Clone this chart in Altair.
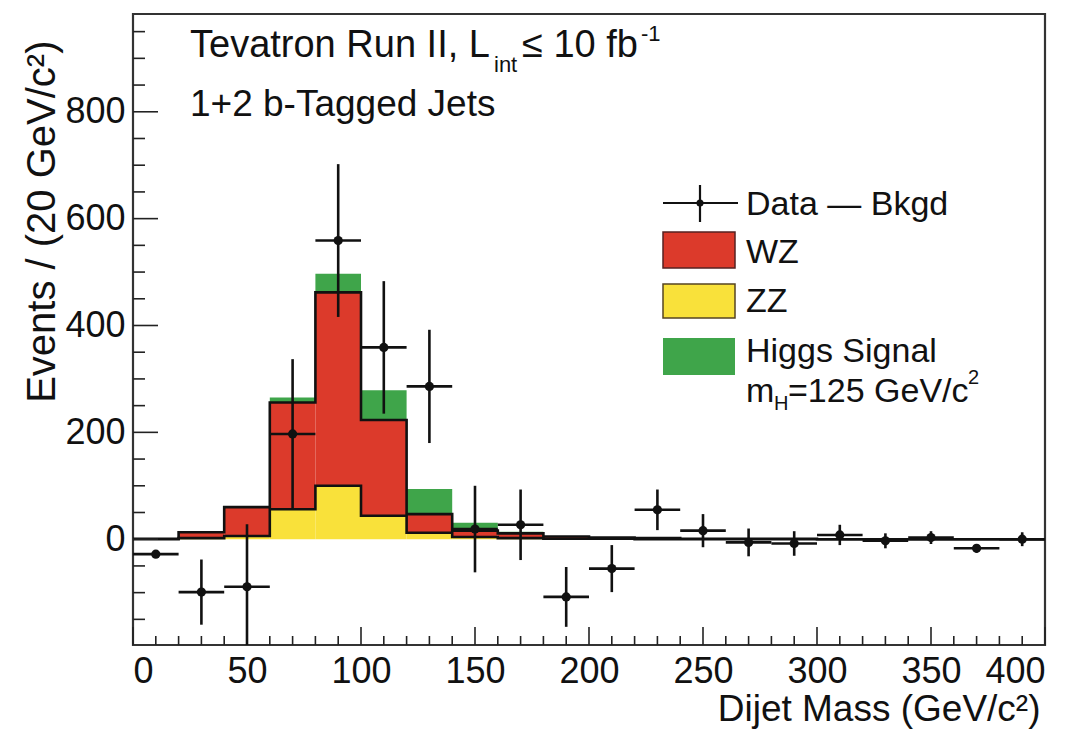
import altair as alt
import pandas as pd
import numpy as np

# ---------------- data ----------------
bin_lo = list(range(0, 400, 20))
bin_hi = [b + 20 for b in bin_lo]
zz_vals = [0, 2, 6, 56, 100, 44, 12, 4, 2, 1, 1, 0, 0, 0, 0, 0, 0, 0, 0, 0]
wz_vals = [1, 11, 54, 200, 362, 179, 35, 12, 9, 4, 2, 2, 1, 1, 1, 0, 0, 0, 0, 0]
higgs_vals = [0, 0, 1, 9, 35, 56, 47, 15, 3, 1, 1, 0, 0, 0, 0, 0, 0, 0, 0, 0]

data_x = [10, 30, 50, 70, 90, 110, 130, 150, 170, 190, 210, 230, 250, 270, 290, 310, 330, 350, 370, 390]
data_y = [-28, -99, -89, 197, 559, 359, 286, 19, 27, -108, -55, 55, 16, -6, -8, 8, -3, 3, -17, 0]
data_err = [5, 61, 117, 140, 143, 124, 106, 81, 66, 56, 44, 38, 31, 26, 23, 19, 14, 12, 8, 13]

x_ticks_major = [0, 50, 100, 150, 200, 250, 300, 350, 400]
y_ticks_major = [0, 200, 400, 600, 800]

RED = "#dc3a2b"
YELLOW = "#f9e13a"
GREEN = "#3fa54a"
FONT = "Liberation Sans"

W, H = 912, 631
XDOM = [0, 400]
YDOM = [-198, 983]
PX_PER_X = W / (XDOM[1] - XDOM[0])
PX_PER_Y = H / (YDOM[1] - YDOM[0])

# ---------------- tables ----------------
zz = np.array(zz_vals, dtype=float)
wz_top = zz + np.array(wz_vals, dtype=float)
all_top = wz_top + np.array(higgs_vals, dtype=float)

hist = pd.DataFrame({"lo": bin_lo, "hi": bin_hi, "zz": zz, "wz": wz_top, "tot": all_top, "zero": 0.0})

step = pd.DataFrame({
    "x": bin_lo + [400],
    "zz": list(zz) + [zz[-1]],
    "wz": list(wz_top) + [wz_top[-1]],
})

pts = pd.DataFrame({"x": data_x, "y": data_y, "err": data_err})
pts["lo"] = pts["y"] - pts["err"]
pts["hi"] = pts["y"] + pts["err"]
pts["xl"] = pts["x"] - 10
pts["xr"] = pts["x"] + 10

xscale = alt.Scale(domain=XDOM, nice=False, zero=False)
yscale = alt.Scale(domain=YDOM, nice=False, zero=False)

x_axis = alt.Axis(values=x_ticks_major, ticks=False, domain=False, grid=False,
                  labelFont=FONT, labelFontSize=36, labelColor="#111", labelPadding=9,
                  title="Dijet Mass (GeV/c²)", titleFont=FONT, titleFontSize=37,
                  titleFontWeight="normal", titleColor="#111", titleAnchor="end",
                  titleAlign="right", titleX=W - 5, titleY=64, titleBaseline="middle")
y_axis = alt.Axis(values=y_ticks_major, ticks=False, domain=False, grid=False,
                  labelFont=FONT, labelFontSize=36, labelColor="#111", labelPadding=8,
                  title="Events / (20 GeV/c²)", titleFont=FONT, titleFontSize=40,
                  titleFontWeight="normal", titleColor="#111", titleAnchor="end",
                  titleAlign="right", titleX=-91, titleY=26, titleBaseline="middle")


def X(f):
    return alt.X(f, type="quantitative", scale=xscale, axis=x_axis)


def Y(f):
    return alt.Y(f, type="quantitative", scale=yscale, axis=y_axis)


base = alt.Chart(hist)

yellow = base.mark_rect(color=YELLOW, clip=True).encode(x=X("lo"), x2="hi", y=Y("zero"), y2="zz")
red = base.mark_rect(color=RED, clip=True).encode(x=X("lo"), x2="hi", y=Y("zz"), y2="wz")
green = base.mark_rect(color=GREEN, clip=True).encode(x=X("lo"), x2="hi", y=Y("wz"), y2="tot")

line_zz = alt.Chart(step).mark_line(interpolate="step-after", color="#111", strokeWidth=2.6, clip=True).encode(
    x=X("x"), y=Y("zz"))
line_wz = alt.Chart(step).mark_line(interpolate="step-after", color="#111", strokeWidth=2.6, clip=True).encode(
    x=X("x"), y=Y("wz"))

pbase = alt.Chart(pts)
vbar = pbase.mark_rule(color="#111", strokeWidth=2.6, clip=True).encode(x=X("x"), y=Y("lo"), y2="hi")
hbar = pbase.mark_rule(color="#111", strokeWidth=2.6, clip=True).encode(x=X("xl"), x2="xr", y=Y("y"))
dots = pbase.mark_circle(color="#111", size=85, opacity=1, clip=True).encode(x=X("x"), y=Y("y"))

# inward ticks (lengths converted from pixels to data units)
xt = pd.DataFrame({"v": list(range(0, 401, 10))})
xt["y0"] = YDOM[0]
xt["y1"] = np.where(xt["v"] % 50 == 0, YDOM[0] + 18 / PX_PER_Y, YDOM[0] + 9 / PX_PER_Y)
xticks = alt.Chart(xt).mark_rule(color="#222", strokeWidth=1.6).encode(
    x=X("v"), y=Y("y0"), y2="y1")
yt = pd.DataFrame({"v": list(range(-150, 951, 50))})
yt["x0"] = XDOM[0]
yt["x1"] = np.where(yt["v"] % 200 == 0, XDOM[0] + 25 / PX_PER_X, XDOM[0] + 12 / PX_PER_X)
yticks = alt.Chart(yt).mark_rule(color="#222", strokeWidth=1.6).encode(
    y=Y("v"), x=X("x0"), x2="x1")

one = pd.DataFrame({"a": [0]})


def txt(s, x, y, size=34, align="left", baseline="alphabetic"):
    return alt.Chart(one).mark_text(text=s, font=FONT, fontSize=size, color="#111",
                                    align=align, baseline=baseline).encode(
        x=alt.value(x), y=alt.value(y))


def box(x1, x2, y1, y2, fill, stroke=None):
    kw = dict(color=fill)
    if stroke:
        kw = dict(fill=fill, stroke=stroke, strokeWidth=1.5)
    return alt.Chart(one).mark_rect(**kw).encode(
        x=alt.value(x1), x2=alt.value(x2), y=alt.value(y1), y2=alt.value(y2))


ox, oy = 133, 14  # plot origin in page
annots = [
    txt("Tevatron Run II, L", 190 - ox, 57 - oy, 38),
    txt("int", 494 - ox, 72 - oy, 22),
    txt("≤ 10 fb", 522 - ox, 57 - oy, 38),
    txt("-1", 641 - ox, 41 - oy, 22),
    txt("1+2 b-Tagged Jets", 190 - ox, 116 - oy, 37),
]

legend = [
    alt.Chart(one).mark_rule(color="#111", strokeWidth=2.2).encode(
        x=alt.value(663 - ox), x2=alt.value(738 - ox), y=alt.value(203 - oy)),
    alt.Chart(one).mark_rule(color="#111", strokeWidth=2.2).encode(
        x=alt.value(700 - ox), y=alt.value(185 - oy), y2=alt.value(222 - oy)),
    alt.Chart(one).mark_circle(color="#111", size=50, opacity=1).encode(
        x=alt.value(700 - ox), y=alt.value(203 - oy)),
    txt("Data — Bkgd", 746 - ox, 205 - oy, 34, baseline="middle"),
    box(663 - ox, 735 - ox, 232 - oy, 268 - oy, RED, "#552222"),
    txt("WZ", 746 - ox, 253 - oy, 34, baseline="middle"),
    box(663 - ox, 735 - ox, 284 - oy, 318 - oy, YELLOW, "#554422"),
    txt("ZZ", 746 - ox, 302 - oy, 34, baseline="middle"),
    box(663 - ox, 735 - ox, 338 - oy, 375 - oy, GREEN),
    txt("Higgs Signal", 746 - ox, 352 - oy, 34, baseline="middle"),
    txt("m", 746 - ox, 402 - oy, 34),
    txt("H", 774 - ox, 410 - oy, 20),
    txt("=125 GeV/c", 788 - ox, 402 - oy, 34),
    txt("2", 968 - ox, 384 - oy, 20),
]

chart = alt.layer(
    yellow, red, green, line_zz, line_wz,
    xticks, yticks,
    vbar, hbar, dots,
    *annots, *legend,
).properties(
    width=W, height=H,
    autosize=alt.AutoSizeParams(type="none"),
    padding={"left": 133, "top": 14, "right": 32, "bottom": 90},
    background="white",
).configure_view(stroke="#333", strokeWidth=2.2)

chart.save("out.html", embed_options={"renderer": "svg", "actions": False})
